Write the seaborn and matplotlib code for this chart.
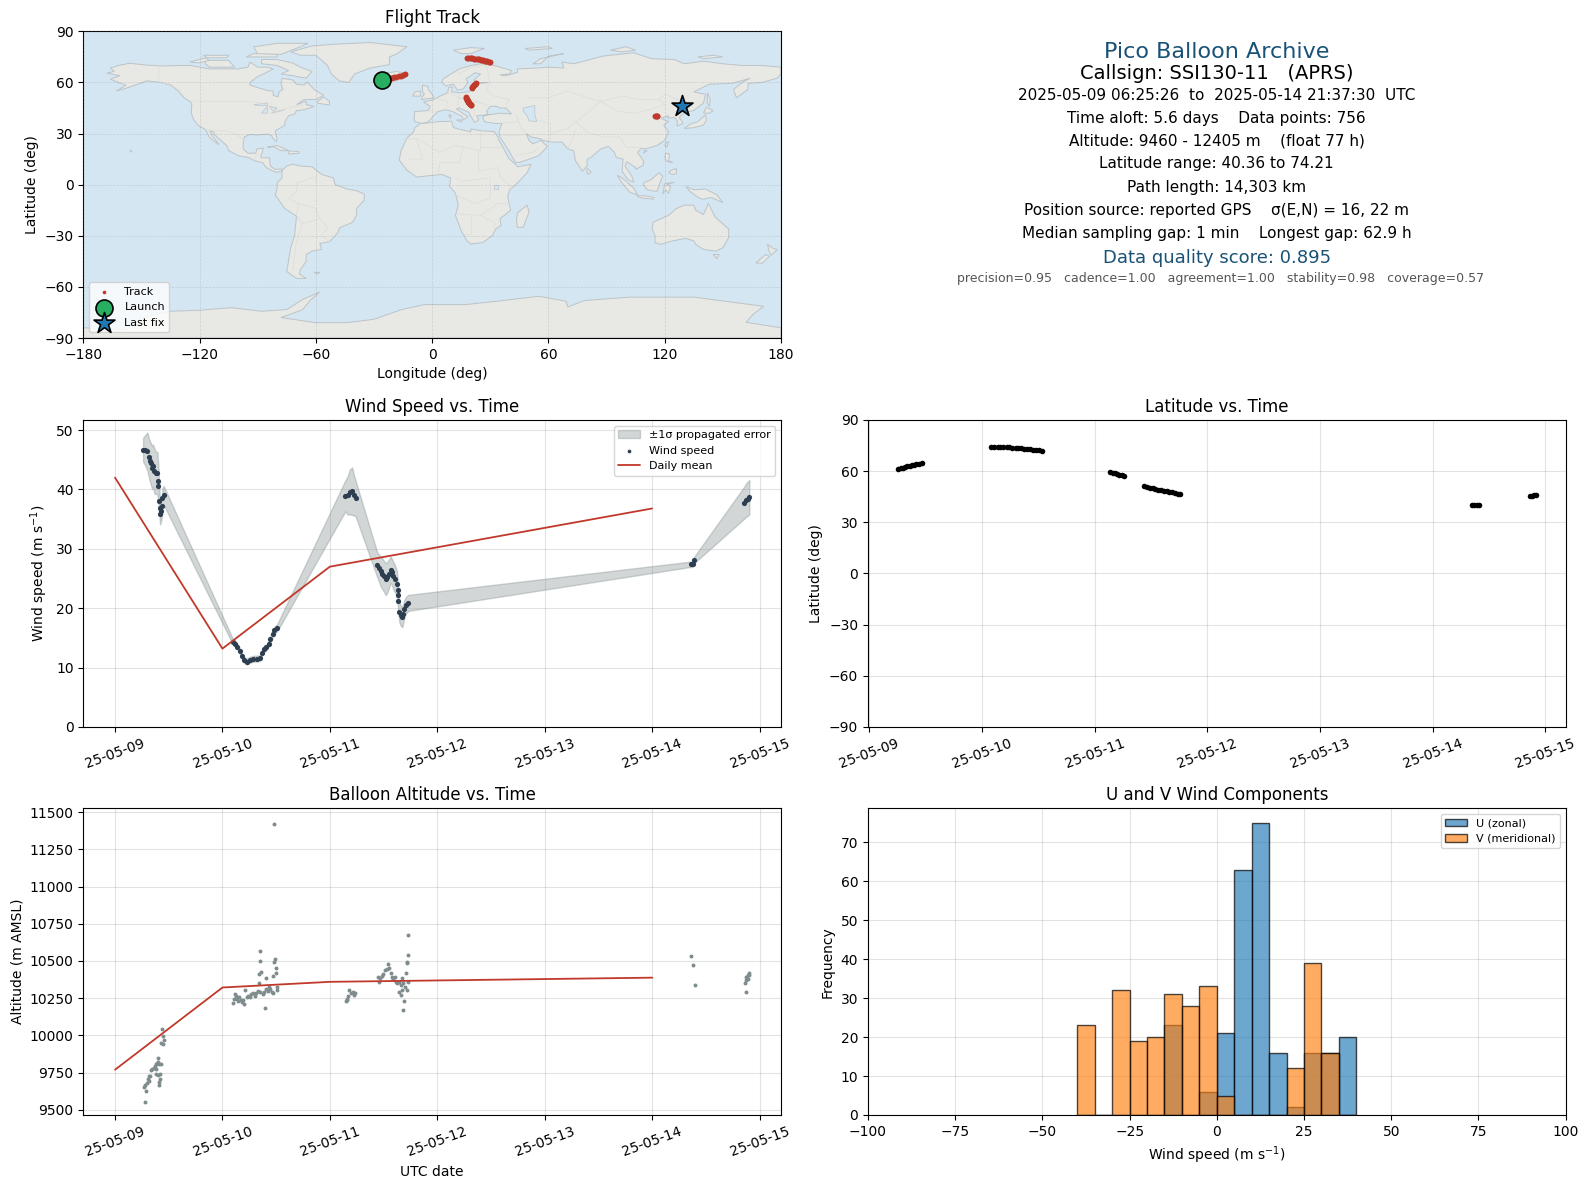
import numpy as np
import pandas as pd
import matplotlib
matplotlib.use("Agg")
import matplotlib.pyplot as plt
import matplotlib.dates as mdates
import seaborn as sns

# -----------------------------
# DATA (days since 2025-05-09 00:00 UTC)
# -----------------------------
base_date = pd.Timestamp("2025-05-09")

track_day = [0.26, 0.28, 0.30, 0.32, 0.34, 0.36, 0.38, 0.40, 0.42, 0.44, 0.465,
             1.085, 1.11, 1.14, 1.165, 1.19, 1.22, 1.245, 1.27, 1.30, 1.32, 1.35, 1.375, 1.40, 1.43, 1.455, 1.48, 1.51, 1.535,
             2.14, 2.16, 2.18, 2.20, 2.22, 2.24, 2.26,
             2.44, 2.465, 2.49, 2.515, 2.54, 2.565, 2.59, 2.615, 2.64, 2.665, 2.69, 2.715, 2.74, 2.76,
             5.35, 5.37, 5.39, 5.41,
             5.86, 5.88, 5.90, 5.92]
track_lat = [61.2, 61.6, 62.0, 62.4, 62.8, 63.1, 63.5, 63.8, 64.1, 64.4, 64.7,
             74.2, 74.2, 74.15, 74.1, 74.1, 74.0, 73.9, 73.8, 73.7, 73.6, 73.4, 73.2, 73.1, 72.9, 72.7, 72.5, 72.3, 72.1,
             59.5, 59.2, 58.8, 58.4, 58.0, 57.5, 57.0,
             51.2, 50.8, 50.4, 50.0, 49.6, 49.2, 48.9, 48.5, 48.2, 47.9, 47.6, 47.3, 46.9, 46.6,
             40.4, 40.4, 40.36, 40.4,
             45.2, 45.5, 45.8, 46.0]
track_lon = [-25.6, -24.4, -23.2, -22.0, -20.8, -19.6, -18.4, -17.2, -16.0, -14.8, -13.8,
             18.0, 18.7, 19.4, 20.1, 20.8, 21.5, 22.2, 22.9, 23.6, 24.3, 25.0, 25.7, 26.4, 27.1, 27.8, 28.5, 29.2, 30.0,
             22.4, 22.1, 21.8, 21.5, 21.2, 20.8, 20.4,
             17.5, 17.6, 17.8, 17.9, 18.1, 18.3, 18.5, 18.7, 18.9, 19.1, 19.3, 19.5, 19.8, 20.0,
             115.0, 115.4, 115.8, 116.0,
             128.7, 128.9, 129.0, 129.1]

launch_lon, launch_lat = [-25.7], [61.2]
last_lon, last_lat = [129.0], [46.1]

wind_day = [0.261, 0.283, 0.301, 0.314, 0.323, 0.332, 0.345, 0.354, 0.366, 0.379, 0.394, 0.401, 0.404, 0.413, 0.416, 0.419, 0.429, 0.438, 0.441, 0.453,
            1.099, 1.121, 1.140, 1.161, 1.183, 1.202, 1.224, 1.255, 1.286, 1.317, 1.348, 1.366, 1.385, 1.410, 1.429, 1.447, 1.466, 1.484, 1.509,
            2.143, 2.165, 2.186, 2.208, 2.224, 2.239,
            2.441, 2.457, 2.472, 2.488, 2.503, 2.519, 2.534, 2.550, 2.565, 2.578, 2.590, 2.606, 2.624, 2.630, 2.634, 2.637, 2.646, 2.658, 2.674, 2.683, 2.693, 2.708, 2.730,
            5.357, 5.376, 5.394,
            5.858, 5.873, 5.888, 5.904]
wind_speed = [46.7, 46.6, 46.4, 45.4, 44.8, 44.4, 43.7, 44.0, 43.1, 42.8, 42.8, 41.4, 40.6, 38.0, 36.9, 35.8, 36.4, 37.3, 38.6, 39.0,
              14.3, 14.0, 13.5, 12.8, 11.9, 11.3, 11.0, 11.3, 11.5, 11.5, 11.6, 12.4, 13.1, 13.4, 14.0, 14.9, 15.6, 16.3, 16.7,
              38.9, 39.0, 39.6, 39.7, 39.0, 38.5,
              27.3, 26.8, 26.2, 25.8, 25.4, 24.9, 25.2, 25.8, 26.5, 26.1, 25.5, 25.0, 24.1, 23.0, 22.2, 21.3, 19.4, 18.8, 18.5, 19.1, 19.9, 20.5, 20.9,
              27.4, 27.4, 28.2,
              37.8, 38.2, 38.4, 38.7]
wind_sigma = [2.0, 2.6, 3.2, 3.3, 3.4, 3.5, 3.6, 3.6, 3.8, 3.6, 3.5, 3.3, 3.0, 2.2, 2.0, 1.7, 1.7, 1.7, 1.6, 1.6,
              0.45, 0.5, 0.5, 0.5, 0.5, 0.5, 0.5, 0.5, 0.5, 0.5, 0.5, 0.5, 0.5, 0.5, 0.55, 0.6, 0.6, 0.6, 0.6,
              2.6, 3.2, 3.8, 4.0, 3.4, 3.0,
              2.1, 2.3, 2.5, 2.6, 2.6, 2.7, 2.6, 2.4, 2.2, 2.2, 2.3, 2.3, 2.2, 2.0, 1.9, 1.8, 1.7, 1.7, 1.7, 1.6, 1.5, 1.4, 1.35,
              0.45, 0.45, 0.55,
              2.7, 2.8, 2.9, 2.9]

mean_day = [0, 1, 2, 5]
mean_wind = [42.0, 13.2, 27.0, 36.8]
mean_alt = [9770, 10322, 10360, 10388]

alt_day = [0.280, 0.289, 0.267, 0.283, 0.301, 0.314, 0.307, 0.317, 0.329, 0.332, 0.348, 0.360, 0.370, 0.379, 0.391, 0.401, 0.401, 0.410, 0.425, 0.379, 0.385, 0.401, 0.422, 0.416, 0.413, 0.410, 0.441, 0.447, 0.453, 0.432, 0.447,
           1.099, 1.109, 1.115, 1.130, 1.137, 1.146, 1.155, 1.168, 1.177, 1.193, 1.202, 1.211, 1.224, 1.236, 1.255, 1.264, 1.280, 1.298, 1.311, 1.326, 1.348, 1.373, 1.385, 1.404, 1.419, 1.435, 1.444, 1.457, 1.466, 1.509, 1.509, 1.394, 1.342, 1.339, 1.357, 1.351, 1.351, 1.407, 1.472, 1.500, 1.500, 1.478, 1.488, 1.484,
           2.146, 2.155, 2.165, 2.180, 2.193, 2.211, 2.233, 2.224, 2.155,
           2.444, 2.453, 2.466, 2.481, 2.497, 2.512, 2.528, 2.540, 2.553, 2.565, 2.575, 2.590, 2.606, 2.615, 2.627, 2.646, 2.658, 2.671, 2.683, 2.699, 2.714, 2.668, 2.646, 2.658, 2.693, 2.683, 2.708, 2.730, 2.724, 2.720, 2.720, 2.730,
           5.357, 5.376, 5.394,
           5.898, 5.888, 5.876, 5.870, 5.864, 5.888, 5.902, 5.870]
alt_m = [9555, 9629, 9656, 9665, 9680, 9692, 9710, 9728, 9730, 9766, 9775, 9781, 9793, 9806, 9815, 9822, 9851, 9811, 9811, 9777, 9743, 9732, 9741, 9707, 9687, 9665, 10046, 9997, 9972, 9952, 9945,
         10221, 10248, 10275, 10264, 10244, 10232, 10255, 10237, 10223, 10241, 10214, 10302, 10255, 10268, 10255, 10277, 10282, 10264, 10288, 10300, 10293, 10277, 10293, 10309, 10298, 10327, 10315, 10293, 10282, 10322, 10304, 10181, 10354, 10412, 10423, 10497, 10565, 10383, 10399, 10416, 10450, 10495, 10515, 11420,
         10228, 10248, 10264, 10302, 10282, 10291, 10282, 10273, 10237,
         10394, 10360, 10383, 10399, 10412, 10437, 10443, 10482, 10450, 10416, 10390, 10376, 10394, 10360, 10349, 10360, 10338, 10383, 10349, 10327, 10304, 10304, 10293, 10271, 10228, 10174, 10416, 10360, 10538, 10495, 10484, 10675,
         10535, 10476, 10342,
         10421, 10403, 10390, 10372, 10354, 10376, 10405, 10295]

hist_edges = [-40, -35, -30, -25, -20, -15, -10, -5, 0, 5, 10, 15, 20, 25, 30, 35, 40]
u_counts = [0, 0, 0, 0, 0, 23, 0, 6, 21, 63, 75, 16, 2, 16, 16, 20]
v_counts = [23, 0, 32, 19, 20, 31, 28, 33, 5, 0, 0, 0, 12, 39, 16, 0]

# -----------------------------
# COARSE WORLD OUTLINES (lon, lat)
# -----------------------------
north_america = [(-168, 65.5), (-164, 66.5), (-166, 68.5), (-162, 70), (-156, 71.3), (-148, 70.3), (-140, 69.7), (-130, 70), (-125, 70), (-115, 68), (-108, 68), (-100, 68), (-95, 69), (-94, 72), (-90, 69), (-85, 69), (-82, 68), (-87, 65), (-90, 63.5), (-94, 60), (-94, 58.5), (-90, 57), (-85, 55.3), (-82, 55), (-82, 52.5), (-79.5, 51.5), (-79, 54.5), (-77, 56), (-78, 59), (-77.5, 62.5), (-72, 61.5), (-70, 59), (-66, 58.5), (-64.5, 60.3), (-61, 56), (-56, 52.5), (-60, 50), (-66, 50), (-70, 47), (-65, 49), (-65, 47), (-61, 46), (-66, 44), (-70, 43.5), (-71, 41.5), (-74, 40.5), (-76, 37), (-76, 35), (-81, 31.5), (-80, 27), (-80.5, 25.2), (-82, 27), (-83, 29), (-85, 29.7), (-90, 29.2), (-94, 29.5), (-97, 28), (-97.5, 24), (-97.5, 21), (-95, 18.5), (-91, 18.5), (-90.5, 21), (-87, 21.5), (-88, 18), (-88.5, 15.8), (-84, 15.8), (-83.5, 11), (-81, 9), (-78, 9.3), (-77.3, 8.5), (-79, 7.5), (-81, 7.5), (-83, 8.5), (-85.5, 10), (-87.5, 13), (-91.5, 14), (-95, 16), (-100, 17), (-105, 20), (-106, 23), (-109, 26), (-112, 29), (-113, 31.2), (-114.8, 31.5), (-113, 28), (-110, 23.5), (-112, 25), (-115, 28), (-117, 32.5), (-120.5, 34.5), (-123, 38), (-124.3, 42), (-124, 46.5), (-124.5, 48.5), (-128, 51), (-131, 55), (-135, 58.5), (-140, 60), (-147, 61), (-152, 59), (-157, 57), (-163, 55), (-158, 58.5), (-162, 60), (-166, 62), (-161, 64)]
greenland = [(-73, 78), (-68, 76), (-60, 76), (-54, 70), (-52, 65), (-48, 61), (-43, 60), (-40, 65), (-32, 68.5), (-22, 70.5), (-22, 75), (-18, 77), (-13, 81), (-32, 83.5), (-50, 82.5), (-62, 81.5)]
south_america = [(-77.3, 8.5), (-75, 11), (-72, 12), (-68, 11), (-62, 10.5), (-57, 6), (-51, 4), (-50, 0), (-44, -2.5), (-39, -3.5), (-35, -5.5), (-35, -9), (-39, -14), (-39, -18), (-41, -22), (-48, -25.5), (-48.5, -28), (-53, -33.5), (-58, -34.5), (-57, -38), (-62, -39), (-65, -41), (-65, -45), (-68, -50), (-68.5, -52.5), (-65, -55), (-70, -55), (-75, -51), (-74, -44), (-73, -37), (-71, -30), (-70, -18.5), (-76, -14), (-81, -6), (-80, -2.5), (-80, 1), (-77.5, 4), (-77.5, 7)]
africa = [(-6, 35.8), (3, 37), (10, 37.3), (11, 33.5), (15, 32.3), (20, 31), (20, 32.8), (25, 31.7), (32, 31.2), (34, 28), (34, 27), (37, 21), (39.5, 15.5), (43, 12), (44, 10.5), (51, 12), (49, 7), (44, 1), (40, -3), (39, -7), (40.5, -15), (35, -20), (35.5, -24), (32.8, -26), (31, -30), (26, -34), (20, -34.8), (18, -33), (15, -27), (12, -18), (13.5, -12), (12, -5), (9, -1), (9.5, 4), (5, 6), (-4, 5), (-8, 4.5), (-13, 8.5), (-17, 14.5), (-16, 20), (-13, 27.5), (-9.5, 31), (-9, 33.5)]
eurasia = [(-9, 37), (-9.3, 39), (-9, 43), (-2, 43.5), (-1, 46), (-4.5, 48.5), (1, 50), (4, 52), (8, 54), (8.5, 57), (10.5, 57.5), (10, 54.5), (14, 54), (19, 54.5), (21, 57), (24, 58), (23, 59.3), (29, 60), (23, 60), (21.5, 61.5), (25, 65), (22, 65.7), (17.5, 62), (18.5, 60), (16, 56.2), (13, 55.5), (11, 59), (7, 58), (5, 60), (5.5, 62), (14, 68), (20, 70), (25, 71), (32, 70), (41, 67), (40, 65), (35, 64.5), (38, 64), (44, 66), (44, 68), (54, 68.5), (60, 69), (68, 68.5), (67, 72), (73, 71), (80, 73), (88, 75.5), (104, 77.5), (113, 74), (125, 73.5), (130, 71), (140, 72.5), (150, 71), (160, 70), (170, 70), (180, 69), (180, 65), (178, 62.5), (170, 60), (163, 59.5), (163, 56), (157, 51), (155.5, 56), (160, 60), (164, 62.5), (155, 59.5), (143, 59), (135, 54.5), (141, 53), (140, 48), (135, 43.5), (130, 42.5), (127.5, 39.5), (129.5, 36), (126.5, 34.5), (126.5, 37.5), (125, 39.5), (121.5, 39), (122, 40.5), (118, 39), (122, 37), (119.5, 35), (122, 31), (120, 26), (116, 23), (110, 21), (108, 21.5), (106, 19), (109, 14), (109, 11.5), (105, 9), (105, 10), (100.5, 13.5), (99.5, 11), (103, 5), (104, 1.5), (101, 3), (98, 8), (98.5, 15), (95, 16), (94, 19), (91, 22.5), (87, 21), (82, 16), (80, 15), (80, 11), (77.5, 8), (74, 14), (73, 20), (70, 21), (67, 25), (62, 25), (57, 26), (56, 27), (51, 28), (48.5, 30), (50, 26), (52, 24), (56, 26), (59.5, 22.5), (55, 17), (45, 13), (43, 13), (39, 21), (35, 28), (34.5, 31), (36, 36), (32, 36), (27, 37), (26, 40), (29, 41), (35, 42), (41, 41.5), (38, 45), (35, 45), (33, 46), (30, 46), (28, 43), (29, 41.2), (26, 40.8), (23, 40.5), (24, 38), (22, 36.5), (19.5, 41), (19, 42.5), (14, 45), (12.5, 44.5), (16, 41.7), (18.5, 40), (16, 38), (15.5, 40), (10.5, 43), (7, 44), (3, 43), (0, 39.5), (-2, 36.8), (-5.5, 36)]
australia = [(114, -22), (122, -18), (126, -14), (130, -12), (135, -12), (136, -15), (140, -17.5), (142.5, -11), (146, -19), (153, -26), (153, -31), (150, -37), (146.5, -39), (140, -38), (136, -35), (135, -33), (131, -31.5), (124, -33), (118, -35), (115, -34), (115, -30), (113.5, -26)]
antarctica = [(-180, -90), (-180, -84), (-158, -85), (-150, -78), (-135, -74.3), (-120, -73.7), (-103.6, -72.2), (-88, -74.3), (-75, -73.3), (-67, -67.5), (-58, -63), (-63, -68), (-67, -73.5), (-78, -78), (-60, -81), (-44, -81), (-30, -79), (-16, -73.4), (-4, -70.4), (17, -70.4), (33.5, -68.4), (55, -65.5), (69, -68.4), (70, -71.8), (78.5, -68), (102, -66), (135, -66), (151, -68.4), (171, -71.4), (165.5, -76.2), (162, -80.8), (180, -84), (180, -90)]
islands = [
    [(-80, 73.5), (-72, 71.5), (-68, 69), (-62, 66.5), (-65, 62.5), (-72, 64), (-78, 65), (-74, 67), (-80, 70), (-88, 71), (-88, 73.5)],
    [(-117, 73), (-105, 73), (-102, 69), (-115, 69), (-117, 71)],
    [(-90, 76.5), (-78, 76.5), (-68, 81), (-64, 83), (-80, 83), (-92, 81)],
    [(-125, 72), (-117, 74.5), (-115, 73), (-120, 71.5)],
    [(-96, 75), (-80, 75), (-80, 76.5), (-92, 77)],
    [(-118, 76), (-105, 76), (-106, 74.5), (-116, 74.5)],
    [(-59, 47.8), (-53, 46.8), (-53, 49), (-56, 51.5), (-59, 49)],
    [(-5.5, 50), (1, 51), (0, 53), (-2, 56), (-2, 57.5), (-5, 58.5), (-5, 54.5), (-4, 53.3), (-5, 51.7)],
    [(-10, 52), (-6, 52), (-6, 55), (-9, 54.5)],
    [(-24, 65.5), (-18, 66.5), (-14, 65), (-18, 63.5), (-22.5, 64)],
    [(11, 79), (20, 80.5), (27, 80), (20, 77), (15, 77)],
    [(52, 71), (56, 74), (68, 77), (60, 75.5), (56, 71)],
    [(48, 80), (60, 81), (62, 80), (50, 79)],
    [(92, 79), (100, 81), (105, 79), (98, 78)],
    [(137, 75), (145, 76), (150, 75), (140, 74)],
    [(142, 54), (143.5, 50), (143, 46), (142, 48)],
    [(130, 33), (135, 33.5), (140, 35), (141.5, 38), (141, 41), (140, 40), (137, 37), (133, 35.5)],
    [(140, 42), (141.5, 45.5), (145, 43.5), (143, 42)],
    [(120, 23), (121, 25), (122, 25), (121, 22)],
    [(109, 18.5), (111, 20), (109.5, 20)],
    [(120, 16), (120.5, 18.5), (122.5, 18), (122, 14), (124, 13), (121, 13.7)],
    [(122, 7), (123.5, 8.5), (126, 9.5), (126, 6.5), (124, 6)],
    [(95.5, 5.5), (98, 4), (104, -2), (106, -6), (102, -4.5), (98, 1)],
    [(105.5, -6.5), (110, -6.5), (114.5, -7.5), (114, -8.5), (108, -7.8)],
    [(109, 1), (113, 3), (117, 7), (119, 5), (117.5, 1), (116, -4), (111, -3), (109, 0)],
    [(119, -5.5), (120, 0.5), (125, 1.5), (121, 0), (123, -1), (122, -5), (120.5, -3)],
    [(131, -1), (135, -3), (141, -2.5), (147, -6), (150, -10.5), (144, -7.5), (140, -8.5), (138, -8), (133, -4)],
    [(145, -41), (148, -41), (147, -43.5)],
    [(173, -35), (176, -37.5), (178, -38), (175, -41.5), (174, -39.5)],
    [(172, -41), (174, -42), (170.5, -46), (167, -46), (170, -43)],
    [(49, -12), (50, -16), (47, -25), (44, -25), (43.5, -21), (44, -16.5)],
    [(80, 9.5), (82, 7.5), (80.5, 6), (79.7, 8)],
    [(-85, 22), (-80, 23), (-74, 20), (-78, 20), (-82, 22.3)],
    [(-74, 19.8), (-69, 19.5), (-68.5, 18.5), (-74, 18)],
    [(-61, -51.5), (-58, -51.5), (-59, -52.3)],
    [(-156, 20.5), (-155, 19.8), (-155.5, 19)],
    [(12.5, 38), (15.5, 38), (15, 36.8)],
    [(8.5, 41), (9.7, 41), (9.5, 39)],
]
lakes = [
    [(47, 45), (53, 46.5), (53, 41), (54, 37), (50, 37.5), (49, 40.5), (47, 43)],
    [(-92, 47), (-85, 48), (-85, 46.5), (-90, 46.5)],
    [(-88, 42), (-85, 46), (-85, 42)],
    [(-84, 46), (-80, 45), (-82, 43)],
    [(-83, 42), (-79, 43.5), (-76, 44), (-79, 43)],
    [(32, 0), (34, 0), (34, -2.5), (32, -2.5)],
]
borders = [
    [(-123, 49), (-95, 49), (-89, 48), (-83, 46), (-82, 42.5), (-79, 43), (-75, 45), (-70, 46), (-67, 47), (-67, 45)],
    [(-141, 70), (-141, 60), (-135, 59), (-130, 55)],
    [(-117, 32.5), (-108, 31.5), (-106, 31.7), (-101, 29.5), (-97, 26)],
    [(-92, 14.5), (-91, 17), (-89, 18)],
    [(-70, -18), (-69, -11), (-74, -8), (-70, -4), (-70, 1), (-67, 2), (-60, 5), (-60, 1)],
    [(-69, -11), (-60, -14), (-58, -20), (-54, -25), (-57, -30), (-53, -33.5)],
    [(-70, -18), (-67, -23), (-70, -33), (-72, -50)],
    [(-67, -23), (-58, -20)],
    [(-13, 27), (-8, 27), (4, 19), (12, 23), (25, 20), (25, 31.5)],
    [(25, 22), (37, 22)],
    [(24, 20), (24, 8), (34, 10), (35, 5), (41, -2)],
    [(3, 6), (4, 13), (14, 13), (16, 23)],
    [(12, 4), (16, 2), (30, 4), (30, -8), (22, -11), (12, -6)],
    [(12, -17), (25, -18), (34, -11), (40, -11)],
    [(20, -18), (20, -29), (16, -29)],
    [(25, -18), (32, -22), (32, -26)],
    [(-8, 27), (-5, 15), (-12, 15)],
    [(28, 70), (30, 60), (28, 56), (32, 52), (40, 50), (38, 47)],
    [(50, 51), (60, 51), (70, 55), (80, 51), (87, 49)],
    [(87, 49), (98, 52), (107, 50), (117, 50), (120, 53), (127, 50), (135, 48), (131, 43)],
    [(87, 49), (96, 43), (105, 42), (112, 44), (120, 47), (117, 50)],
    [(74, 37), (80, 31), (88, 28), (97, 28), (100, 22), (106, 22), (108, 21.5)],
    [(87, 49), (80, 42), (74, 37)],
    [(44, 39), (46, 33), (48.5, 30)],
    [(61, 36), (61, 25)],
    [(54, 38), (61, 36)],
    [(61, 30), (70, 33), (74, 37)],
    [(-2, 43.5), (3, 43)],
    [(2, 51), (8, 49), (7, 44)],
    [(8, 54), (14, 51), (19, 49), (23, 49), (30, 46)],
    [(14, 54), (14, 51), (13, 47), (14, 45.5)],
    [(22, 40.5), (22, 44), (19, 46), (23, 49)],
    [(14, 65), (20, 69), (28, 70)],
    [(35, 29), (46, 29), (48, 30)],
    [(43, 17), (52, 19), (55, 22)],
    [(70, 21), (74, 32)],
    [(36, 36), (44, 37), (44, 39), (43, 41)],
]

# -----------------------------
# THEME
# -----------------------------
sns.set_style("ticks", {"axes.edgecolor": "black", "xtick.color": "black", "ytick.color": "black",
                        "text.color": "black", "axes.labelcolor": "black"})
plt.rcParams["font.family"] = "DejaVu Sans"
plt.rcParams["axes.linewidth"] = 0.8

OCEAN = "#d4e6f1"
LAND = "#e8e8e4"
COAST = "#bcc4c9"
RED = "#c0392b"
NAVY = "#2c3e50"
GREY = "#7f8c8d"
TITLE_BLUE = "#1a5276"

W, H = 1588, 1189
fig = plt.figure(figsize=(W / 100, H / 100), dpi=100)


def make_ax(left, top, right, bottom):
    return fig.add_axes([left / W, 1 - bottom / H, (right - left) / W, (bottom - top) / H])


def to_dates(days):
    return base_date + pd.to_timedelta(np.array(days, dtype=float), unit="D")


def date_axis(ax, label=""):
    ax.xaxis.set_major_locator(mdates.DayLocator())
    ax.xaxis.set_major_formatter(mdates.DateFormatter("%y-%m-%d"))
    ax.tick_params(axis="x", rotation=20)
    ax.grid(True, alpha=0.22, color="#808080", linewidth=0.8)
    ax.set_xlabel(label)


ax_map = make_ax(83.3, 31.4, 781, 338)
ax_info = make_ax(868, 31.4, 1565.6, 338)
ax_wind = make_ax(83.3, 420, 781, 727)
ax_lat = make_ax(868, 420, 1565.6, 727)
ax_alt = make_ax(83.3, 808.3, 781, 1115)
ax_hist = make_ax(868, 808.3, 1565.6, 1115)

# -----------------------------
# FLIGHT TRACK
# -----------------------------
ax_map.set_facecolor(OCEAN)
for shape in [north_america, greenland, south_america, africa, eurasia, australia, antarctica] + islands:
    xs, ys = zip(*shape)
    ax_map.fill(xs, ys, facecolor=LAND, edgecolor=COAST, linewidth=0.7, zorder=1)
for shape in lakes:
    xs, ys = zip(*shape)
    ax_map.fill(xs, ys, facecolor=OCEAN, edgecolor=COAST, linewidth=0.5, zorder=1.1)
for shape in borders:
    xs, ys = zip(*shape)
    ax_map.plot(xs, ys, color="#dcdcd8", linewidth=0.5, zorder=1.2)

sns.scatterplot(x=track_lon, y=track_lat, s=18, color=RED, linewidth=0, zorder=3, label="Track", ax=ax_map)
sns.scatterplot(x=launch_lon, y=launch_lat, s=150, color="#27ae60", edgecolor="black", linewidth=1.2,
                zorder=4, label="Launch", ax=ax_map)
sns.scatterplot(x=last_lon, y=last_lat, s=250, marker="*", color="#1f77b4", edgecolor="black", linewidth=1.2,
                zorder=5, label="Last fix", ax=ax_map)
ax_map.set_xlim(-180, 180)
ax_map.set_ylim(-90, 90)
ax_map.set_xticks(np.arange(-180, 181, 60))
ax_map.set_yticks(np.arange(-90, 91, 30))
ax_map.set_axisbelow(False)
ax_map.grid(True, alpha=0.25, color="#808080", linewidth=0.5, linestyle="--")
ax_map.set_xlabel("Longitude (deg)")
ax_map.set_ylabel("Latitude (deg)")
ax_map.set_title("Flight Track")
map_legend = ax_map.legend(loc="lower left", fontsize=8)
map_legend.legend_handles[0].set_sizes([7])

# -----------------------------
# INFO PANEL
# -----------------------------
ax_info.axis("off")
info_lines = [
    (0.934, 0.5, "Pico Balloon Archive", 16, TITLE_BLUE),
    (0.862, 0.5, "Callsign: SSI130-11   (APRS)", 14, "black"),
    (0.792, 0.5, "2025-05-09 06:25:26  to  2025-05-14 21:37:30  UTC", 11, "black"),
    (0.717, 0.5, "Time aloft: 5.6 days    Data points: 756", 11, "black"),
    (0.644, 0.5, "Altitude: 9460 - 12405 m    (float 77 h)", 11, "black"),
    (0.568, 0.5, "Latitude range: 40.36 to 74.21", 11, "black"),
    (0.492, 0.5, "Path length: 14,303 km", 11, "black"),
    (0.416, 0.5, "Position source: reported GPS    σ(E,N) = 16, 22 m", 11, "black"),
    (0.340, 0.5, "Median sampling gap: 1 min    Longest gap: 62.9 h", 11, "black"),
    (0.261, 0.5, "Data quality score: 0.895", 13, TITLE_BLUE),
    (0.195, 0.506, "precision=0.95   cadence=1.00   agreement=1.00   stability=0.98   coverage=0.57", 9, "#555555"),
]
for y_pos, x_pos, line, size, colour in info_lines:
    ax_info.text(x_pos, y_pos, line, ha="center", va="center", fontsize=size, color=colour, transform=ax_info.transAxes)

# -----------------------------
# WIND SPEED
# -----------------------------
speed = np.array(wind_speed)
sigma = np.array(wind_sigma)
ax_wind.fill_between(to_dates(wind_day), speed - sigma, speed + sigma, color=GREY, alpha=0.35,
                     label="±1σ propagated error")
sns.scatterplot(x=to_dates(wind_day), y=speed, s=14, color=NAVY, linewidth=0, label="Wind speed", ax=ax_wind)
sns.lineplot(x=to_dates(mean_day), y=mean_wind, color=RED, linewidth=1.3, estimator=None, label="Daily mean", ax=ax_wind)
ax_wind.set_ylim(0, 51.7)
date_axis(ax_wind)
ax_wind.set_ylabel("Wind speed (m s$^{-1}$)")
ax_wind.set_title("Wind Speed vs. Time")
wind_legend = ax_wind.legend(loc="upper right", fontsize=8)
wind_legend.legend_handles[1].set_sizes([7])

# -----------------------------
# LATITUDE
# -----------------------------
sns.scatterplot(x=to_dates(track_day), y=track_lat, s=16, color="black", linewidth=0, ax=ax_lat)
ax_lat.set_ylim(-90, 90)
ax_lat.set_yticks(np.arange(-90, 91, 30))
date_axis(ax_lat)
ax_lat.set_xlim(to_dates([-0.01, 6.18]))
ax_lat.set_ylabel("Latitude (deg)")
ax_lat.set_title("Latitude vs. Time")

# -----------------------------
# ALTITUDE
# -----------------------------
sns.scatterplot(x=to_dates(alt_day), y=alt_m, s=8, color=GREY, linewidth=0, ax=ax_alt)
sns.lineplot(x=to_dates(mean_day), y=mean_alt, color=RED, linewidth=1.3, estimator=None, ax=ax_alt)
ax_alt.set_ylim(9466, 11525)
date_axis(ax_alt, "UTC date")
ax_alt.set_ylabel("Altitude (m AMSL)")
ax_alt.set_title("Balloon Altitude vs. Time")

# -----------------------------
# U / V HISTOGRAM
# -----------------------------
centers = (np.array(hist_edges[:-1]) + np.array(hist_edges[1:])) / 2
sns.histplot(x=centers, weights=u_counts, bins=hist_edges, color="#1f77b4", alpha=0.65, edgecolor=(0, 0, 0, 0.7),
             linewidth=1, label="U (zonal)", ax=ax_hist)
sns.histplot(x=centers, weights=v_counts, bins=hist_edges, color="#ff7f0e", alpha=0.65, edgecolor=(0, 0, 0, 0.7),
             linewidth=1, label="V (meridional)", ax=ax_hist)
ax_hist.set_xlim(-100, 100)
ax_hist.set_xticks(np.arange(-100, 101, 25))
ax_hist.grid(True, alpha=0.22, color="#808080", linewidth=0.8)
ax_hist.set_xlabel("Wind speed (m s$^{-1}$)")
ax_hist.set_ylabel("Frequency")
ax_hist.set_title("U and V Wind Components")
ax_hist.legend(loc="upper right", fontsize=8)

fig.savefig("out.png", dpi=100)
